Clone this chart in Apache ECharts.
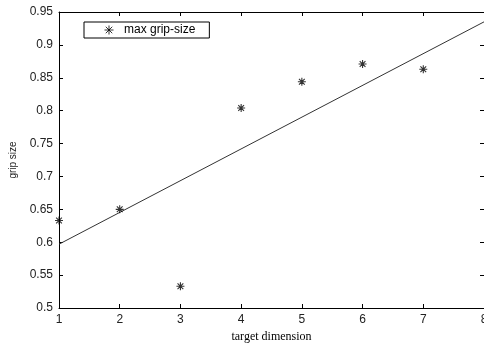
<!DOCTYPE html>
<html>
<head>
<meta charset="utf-8">
<script src="https://cdn.jsdelivr.net/npm/echarts@6/dist/echarts.min.js"></script>
<style>
  html, body { margin: 0; padding: 0; background: #fff; }
  #chart { width: 484px; height: 346px; }
</style>
</head>
<body>
<div id="chart"></div>
<script>
// measured points (target dimension -> max grip size)
const dims = [1, 2, 3, 4, 5, 6, 7]
const maxGrip = [0.633, 0.65, 0.533, 0.804, 0.844, 0.871, 0.863]
// fitted line ends
const fitX = [1, 8]
const fitY = [0.597, 0.935]
const xTicks = [1, 2, 3, 4, 5, 6, 7, 8]
const yTicks = [0.5, 0.55, 0.6, 0.65, 0.7, 0.75, 0.8, 0.85, 0.9, 0.95]

const star = 'path://M0,-5L0,5M-5,0L5,0M-3.6,-3.6L3.6,3.6M-3.6,3.6L3.6,-3.6'
const tickFont = { fontFamily: 'Liberation Sans, Arial, sans-serif', fontSize: 12, color: '#222' }

const chart = echarts.init(document.getElementById('chart'))

const axisCommon = {
  axisLine: { show: true, lineStyle: { color: '#000', width: 1 } },
  axisTick: { show: true, inside: true, length: 4, lineStyle: { color: '#000' } },
  splitLine: { show: false },
}

chart.setOption({
  animation: false,
  grid: { left: 59, right: 0, top: 12, bottom: 38, outerBoundsMode: 'none', containLabel: false },
  legend: {
    left: 84,
    top: 22,
    data: [{ name: 'max grip-size', icon: star }],
    orient: 'vertical',
    borderColor: '#000',
    borderWidth: 1,
    padding: [1, 14, 1, 18],
    itemWidth: 20,
    itemHeight: 9,
    itemGap: 0,
    textStyle: { fontFamily: 'Liberation Sans, Arial, sans-serif', fontSize: 12, color: '#000' },
    itemStyle: { color: 'none', borderColor: '#000', borderWidth: 1 },
  },
  xAxis: [
    {
      type: 'value',
      min: 1, max: 8, interval: 1,
      ...axisCommon,
      axisLabel: { ...tickFont, margin: 6, formatter: v => xTicks.includes(v) ? String(v) : '' },
      name: 'target dimension',
      nameLocation: 'middle',
      nameGap: 22,
      nameTextStyle: { fontFamily: 'Liberation Serif, Times New Roman, serif', fontSize: 12, color: '#000' },
    },
    {
      type: 'value', position: 'top',
      min: 1, max: 8, interval: 1,
      ...axisCommon,
      axisLabel: { show: false },
    },
  ],
  yAxis: [
    {
      type: 'value',
      min: 0.5, max: 0.95, interval: 0.05,
      ...axisCommon,
      axisLabel: { ...tickFont, margin: 6, formatter: v => String(+v.toFixed(2)) },
      name: 'grip size',
      nameLocation: 'middle',
      nameGap: 38,
      nameRotate: 90,
      nameTextStyle: { fontFamily: 'Liberation Sans, Arial, sans-serif', fontSize: 10, color: '#222' },
    },
    {
      type: 'value', position: 'right',
      min: 0.5, max: 0.95, interval: 0.05,
      ...axisCommon,
      axisLabel: { show: false },
    },
  ],
  series: [
    {
      name: 'max grip-size',
      type: 'scatter',
      symbol: star,
      symbolSize: 8,
      itemStyle: { color: 'none', borderColor: '#000', borderWidth: 1.1 },
      data: dims.map((d, i) => [d, maxGrip[i]]),
      z: 3,
    },
    {
      name: 'fit',
      type: 'line',
      showSymbol: false,
      lineStyle: { color: '#333', width: 1 },
      data: fitX.map((d, i) => [d, fitY[i]]),
      z: 2,
    },
  ],
})
</script>
</body>
</html>
